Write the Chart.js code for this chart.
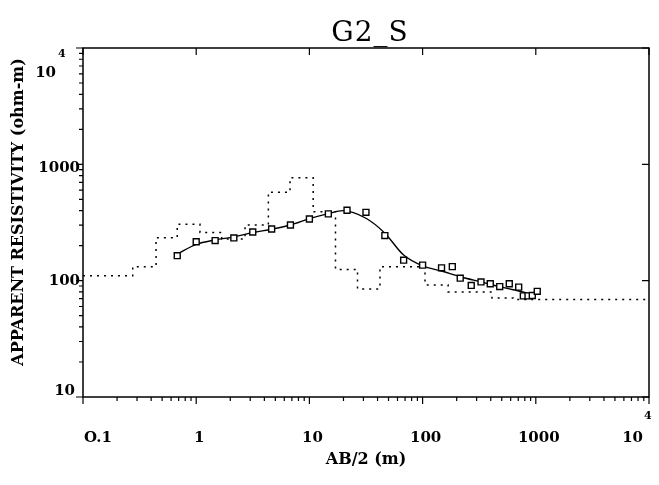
<!DOCTYPE html>
<html>
<head>
<meta charset="utf-8">
<script src="https://cdn.jsdelivr.net/npm/chart.js@4.4.1/dist/chart.umd.min.js"></script>
<style>
  body { margin: 0; background: #fff; }
</style>
</head>
<body>
<canvas id="sounding" width="659" height="485"></canvas>
<script>
// observed apparent resistivity (squares)
const obsAB = [0.68, 1.0, 1.47, 2.15, 3.16, 4.64, 6.8, 10, 14.7, 21.5, 31.6, 46.4, 68, 100, 147, 183, 215, 269, 328, 396, 480, 583, 706, 776, 853, 931, 1030];
const obsRho = [164, 216, 221, 233, 262, 278, 301, 339, 375, 403, 387, 244, 150, 136, 129, 132, 105, 91, 97.5, 94, 89, 94, 88, 74, 74, 74.5, 81];

// fitted model curve
const fitAB = [0.68, 1.0, 1.47, 2.15, 3.16, 4.64, 6.8, 10, 14.7, 19.8, 31.6, 46.4, 68, 100, 147, 215, 328, 480, 706, 1000];
const fitRho = [169, 205, 224, 238, 259, 277, 301, 341, 377, 400, 344, 256, 166, 134, 121, 108, 97.5, 88.8, 81.5, 75.4];

// layered model (top of each layer, resistivity)
const layerAB = [0.1, 0.275, 0.442, 0.68, 1.08, 1.68, 2.70, 4.34, 6.74, 10.8, 17.0, 26.6, 42.0, 105, 168, 410, 629, 10000];
const layerRho = [110, 132, 234, 305, 259, 228, 301, 576, 768, 392, 125, 85, 132, 92, 80, 71, 69, 69];

const xTickValues = [0.1, 1, 10, 100, 1000, 10000];
const xTickLabels = ["O.1", "1", "10", "100", "1000", "10"];
const xTickSup = ["", "", "", "", "", "4"];
const yTickValues = [10, 100, 1000, 10000];
const yTickLabels = ["10", "100", "1000", "10"];
const yTickSup = ["", "", "", "4"];

const toPoints = (xs, ys) => xs.map((v, i) => ({ x: v, y: ys[i] }));

const serif = '"DejaVu Serif", "Liberation Serif", serif';

const frame = {
  id: "frame",
  afterDraw(chart) {
    const { ctx, chartArea: a, scales } = chart;
    const x = scales.x, y = scales.y;
    ctx.save();
    ctx.strokeStyle = "#000";
    ctx.fillStyle = "#000";

    // box
    ctx.lineWidth = 1.5;
    ctx.strokeRect(a.left, a.top, a.right - a.left, a.bottom - a.top);

    // ticks
    ctx.lineWidth = 1.2;
    ctx.beginPath();
    for (let d = -1; d <= 4; d++) {
      const px = x.getPixelForValue(Math.pow(10, d));
      ctx.moveTo(px, a.bottom); ctx.lineTo(px, a.bottom + 7);
      ctx.moveTo(px, a.top); ctx.lineTo(px, a.top + 7);
      if (d < 4) {
        for (let m = 2; m <= 9; m++) {
          const p = x.getPixelForValue(m * Math.pow(10, d));
          ctx.moveTo(p, a.bottom); ctx.lineTo(p, a.bottom + 4);
        }
      }
    }
    for (let d = 1; d <= 4; d++) {
      const py = y.getPixelForValue(Math.pow(10, d));
      ctx.moveTo(a.left - 7, py); ctx.lineTo(a.left, py);
      ctx.moveTo(a.right - 7, py); ctx.lineTo(a.right, py);
      if (d < 4) {
        for (let m = 2; m <= 9; m++) {
          const p = y.getPixelForValue(m * Math.pow(10, d));
          ctx.moveTo(a.left - 4, p); ctx.lineTo(a.left, p);
        }
      }
    }
    ctx.stroke();

    // x tick labels
    ctx.textBaseline = "alphabetic";
    xTickValues.forEach((v, i) => {
      const px = x.getPixelForValue(v);
      ctx.font = "bold 15px " + serif;
      if (i === 0) {
        ctx.textAlign = "left";
        ctx.fillText(xTickLabels[i], a.left + 1, 442);
      } else if (xTickSup[i]) {
        ctx.textAlign = "right";
        ctx.fillText(xTickLabels[i], px - 6, 442);
        ctx.font = "bold 11px " + serif;
        ctx.textAlign = "left";
        ctx.fillText(xTickSup[i], px - 5, 419);
      } else {
        ctx.textAlign = "center";
        ctx.fillText(xTickLabels[i], px + 3, 442);
      }
    });

    // y tick labels
    const yDy = [-2, 4.5, 8, 29];
    const yRight = [75, 80, 80, 56];
    yTickValues.forEach((v, i) => {
      const py = y.getPixelForValue(v);
      ctx.font = "bold 15px " + serif;
      ctx.textAlign = "right";
      ctx.fillText(yTickLabels[i], yRight[i], py + yDy[i]);
      if (yTickSup[i]) {
        ctx.font = "bold 11px " + serif;
        ctx.textAlign = "left";
        ctx.fillText(yTickSup[i], yRight[i] + 2, py + 9);
      }
    });

    // titles
    ctx.font = "28px " + serif;
    ctx.textAlign = "center";
    ctx.letterSpacing = "1px";
    ctx.fillText("G2_S", 370, 41);
    ctx.letterSpacing = "0px";

    ctx.font = "bold 16px " + serif;
    ctx.textAlign = "center";
    ctx.fillText("AB/2 (m)", 366, 464);

    ctx.translate(19, 212);
    ctx.rotate(-Math.PI / 2);
    ctx.font = "bold 16px " + serif;
    ctx.textBaseline = "middle";
    ctx.fillText("APPARENT RESISTIVITY (ohm-m)", 0, 0);
    ctx.restore();
  }
};

new Chart(document.getElementById("sounding"), {
  type: "scatter",
  data: {
    datasets: [
      {
        label: "observed",
        data: toPoints(obsAB, obsRho),
        showLine: false,
        pointStyle: "rect",
        pointRadius: 4.2,
        pointBorderWidth: 1.4,
        pointBorderColor: "#000",
        pointBackgroundColor: "#fff",
        order: 0
      },
      {
        label: "model",
        data: toPoints(fitAB, fitRho),
        showLine: true,
        cubicInterpolationMode: "monotone",
        borderColor: "#000",
        borderWidth: 1.4,
        pointRadius: 0,
        order: 1
      },
      {
        label: "layers",
        data: toPoints(layerAB, layerRho),
        showLine: true,
        stepped: "before",
        borderColor: "#000",
        borderWidth: 1.5,
        borderDash: [2, 5],
        pointRadius: 0,
        order: 2
      }
    ]
  },
  options: {
    responsive: false,
    animation: false,
    events: [],
    layout: { padding: { left: 83, right: 10, top: 48, bottom: 88 } },
    plugins: {
      legend: { display: false },
      title: { display: false },
      tooltip: { enabled: false }
    },
    scales: {
      x: { type: "logarithmic", min: 0.1, max: 10000, display: false },
      y: { type: "logarithmic", min: 10, max: 10000, display: false }
    }
  },
  plugins: [frame]
});
</script>
</body>
</html>
